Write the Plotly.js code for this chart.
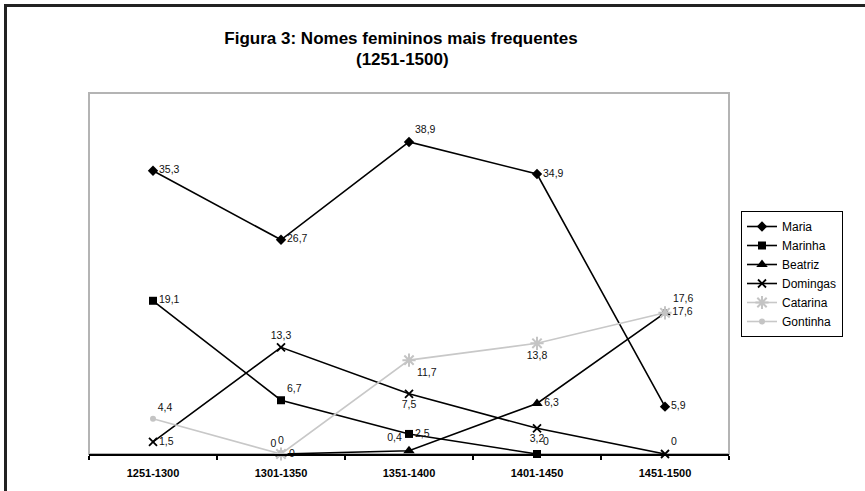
<!DOCTYPE html>
<html>
<head>
<meta charset="utf-8">
<script src="https://cdn.plot.ly/plotly-3.0.1.min.js"></script>
<style>
  html, body { margin: 0; padding: 0; background: #ffffff; }
  #chart { width: 865px; height: 491px; }
</style>
</head>
<body>
<div id="chart"></div>
<script>
// ---- data ----
const categories = ["1251-1300", "1301-1350", "1351-1400", "1401-1450", "1451-1500"];
const maria    = [35.3, 26.7, 38.9, 34.9, 5.9];
const marinha  = [19.1, 6.7, 2.5, 0, null];
const beatriz  = [null, 0, 0.4, 6.3, 17.6];
const domingas = [1.5, 13.3, 7.5, 3.2, 0];
const catarina = [null, 0, 11.7, 13.8, 17.6];
const gontinha = [4.4, 0, null, null, null];
const titleLine1 = "Figura 3: Nomes femininos mais frequentes";
const titleLine2 = "(1251-1500)";

const fmt = v => (v === null ? "" : String(v).replace(".", ","));
const FONT = "Liberation Sans, Arial, sans-serif";

function series(name, values, marker, lineColor, positions) {
  return {
    type: "scatter",
    mode: "lines+markers+text",
    name: name,
    x: categories,
    y: values,
    text: values.map(fmt),
    textposition: positions,
    textfont: { family: FONT, size: 10.5, color: "#111111" },
    line: { color: lineColor, width: 1.6 },
    marker: marker,
    cliponaxis: false,
    connectgaps: false
  };
}

const traces = [
  series("Maria", maria,
    { symbol: "diamond", size: 8, color: "#000000" }, "#000000",
    ["middle right", "middle right", "top right", "middle right", "middle right"]),
  series("Marinha", marinha,
    { symbol: "square", size: 8, color: "#000000" }, "#000000",
    ["middle right", "top right", "middle right", "top right", "middle right"]),
  series("Beatriz", beatriz,
    { symbol: "triangle-up", size: 10, color: "#000000" }, "#000000",
    ["top center", "top center", "top left", "middle right", "middle right"]),
  series("Domingas", domingas,
    { symbol: "x-thin", size: 8, color: "#000000", line: { color: "#000000", width: 1.8 } }, "#000000",
    ["middle right", "top center", "bottom center", "bottom center", "top right"]),
  series("Catarina", catarina,
    { symbol: "asterisk-open", size: 11, color: "#c4c4c4", line: { color: "#c4c4c4", width: 2 } }, "#c8c8c8",
    ["middle right", "middle right", "bottom right", "bottom center", "top right"]),
  series("Gontinha", gontinha,
    { symbol: "circle", size: 6, color: "#c4c4c4" }, "#c8c8c8",
    ["top right", "top left", "middle right", "middle right", "middle right"])
];

const L = 89, R = 729, T = 93, B = 454, W = 865, H = 491;
const px = x => (x - L) / (R - L);
const py = y => (B - y) / (B - T);

const layout = {
  width: W, height: H,
  margin: { l: L, r: W - R, t: T, b: H - B, pad: 0 },
  paper_bgcolor: "#ffffff",
  plot_bgcolor: "#ffffff",
  font: { family: FONT, color: "#000000" },
  title: {
    text: "<b>" + titleLine1 + "</b>",
    font: { family: FONT, size: 17, color: "#000000" },
    xref: "container", yref: "container",
    x: 401 / W, y: 1 - 38 / H,
    xanchor: "center", yanchor: "middle"
  },
  annotations: [{
    text: "<b>" + titleLine2 + "</b>",
    font: { family: FONT, size: 17, color: "#000000" },
    xref: "paper", yref: "paper",
    x: px(402), y: py(59),
    xanchor: "center", yanchor: "middle",
    showarrow: false
  }],
  xaxis: {
    type: "category",
    range: [-0.5, 4.5],
    showline: true, linecolor: "#000000", linewidth: 2,
    ticks: "outside", tickson: "boundaries", ticklen: 4, tickwidth: 1.5, tickcolor: "#000000",
    ticklabelstandoff: 8,
    tickfont: { family: FONT, size: 11, color: "#000000", weight: "bold" },
    showgrid: false, zeroline: false, fixedrange: true
  },
  yaxis: {
    range: [0, 45],
    showline: false, showgrid: false, zeroline: false,
    showticklabels: false, ticks: "", fixedrange: true
  },
  showlegend: true,
  legend: {
    x: px(741), y: py(274), xanchor: "left", yanchor: "middle",
    bgcolor: "#ffffff", bordercolor: "#000000", borderwidth: 1,
    font: { family: FONT, size: 12, color: "#000000" },
    itemwidth: 30, tracegroupgap: 0
  },
  shapes: [
    { type: "rect", xref: "paper", yref: "paper", x0: 0, x1: 1, y0: 0, y1: 1,
      line: { color: "#b4b4b4", width: 2 }, layer: "below" },
    { type: "rect", xref: "paper", yref: "paper",
      x0: px(5.5), x1: px(900), y0: py(520), y1: py(5.5),
      line: { color: "#222222", width: 3 }, layer: "below" }
  ]
};

Plotly.newPlot("chart", traces, layout, { displayModeBar: false, staticPlot: true });
</script>
</body>
</html>
